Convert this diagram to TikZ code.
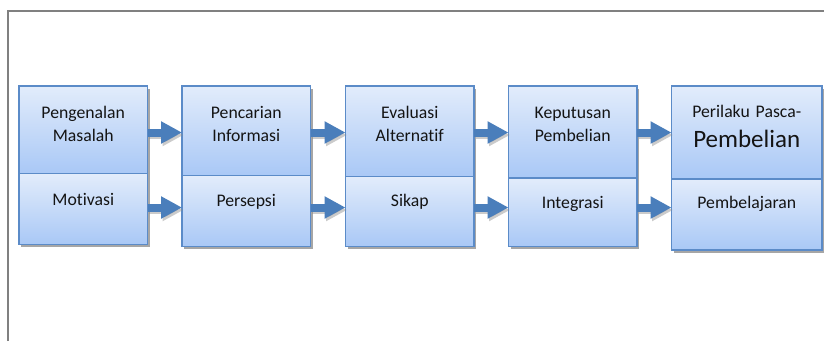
\documentclass[tikz,border=0pt]{standalone}
\usepackage{fontspec}
\setmainfont{Carlito}[Ligatures={NoCommon}]
\usetikzlibrary{arrows.meta,shadows,calc}
\definecolor{boxtop}{HTML}{E2ECFB}
\definecolor{boxbot}{HTML}{A9C8F6}
\definecolor{boxline}{HTML}{5B8BC8}
\definecolor{arrowblue}{HTML}{4A7EBB}
\definecolor{framegray}{HTML}{808080}
\definecolor{txtcol}{HTML}{141414}
\begin{document}
\begin{tikzpicture}[x=1pt,y=-1pt,
  stage/.style={draw=boxline, line width=1.3pt, top color=boxtop, bottom color=boxbot,
    inner sep=0pt, outer sep=0pt, anchor=north west, minimum width=128.5pt,
    drop shadow={shadow xshift=2pt, shadow yshift=-2.5pt, fill=black, opacity=0.35}},
  wide/.style={minimum width=150.5pt},
  stagetext/.style={text=txtcol, font=\fontsize{17.7}{23}\selectfont, text width=140pt,
    align=center, anchor=base, inner sep=0pt},
  flow/.style={draw=arrowblue, line width=8pt, -{Triangle[length=21pt,width=21pt]}},
  flowshadow/.style={draw=black!45, opacity=0.45, line width=8pt, -{Triangle[length=21pt,width=21pt]},
    transform canvas={shift={(1.5pt,-2.5pt)}}},
  frameline/.style={draw=framegray, line width=2pt}]
\useasboundingbox (0,0) rectangle (824,341);
\fill[white] (0,0) rectangle (824,341);
\draw[frameline] (8,341) -- (8,11) -- (824,11);

% column 1
\node[stage, minimum height=87.5pt] (t1) at (19,86) {};
\node[stage, minimum height=71pt] (b1) at (19,173.5) {};
% column 2
\node[stage, minimum height=89.5pt] (t2) at (182,86) {};
\node[stage, minimum height=71pt] (b2) at (182,175.5) {};
% column 3
\node[stage, minimum height=90.5pt] (t3) at (345.5,86) {};
\node[stage, minimum height=70pt] (b3) at (345.5,176.5) {};
% column 4
\node[stage, minimum height=92pt] (t4) at (508.5,86) {};
\node[stage, minimum height=68.5pt] (b4) at (508.5,178) {};
% column 5
\node[stage, wide, minimum height=93pt] (t5) at (671.5,86) {};
\node[stage, wide, minimum height=71pt] (b5) at (671.5,179) {};

% texts
\node[stagetext] (l1) at ($(t1.north)+(0,32)$) {Pengenalan\\Masalah};
\node[stagetext] (m1) at ($(b1.north)+(0,31.5)$) {Motivasi};
\node[stagetext] (l2) at ($(t2.north)+(0,32)$) {Pencarian\\Informasi};
\node[stagetext] (m2) at ($(b2.north)+(0,30.5)$) {Persepsi};
\node[stagetext] (l3) at ($(t3.north)+(0,32)$) {Evaluasi\\Alternatif};
\node[stagetext] (m3) at ($(b3.north)+(0,29.5)$) {Sikap};
\node[stagetext] (l4) at ($(t4.north)+(0,32)$) {Keputusan\\Pembelian};
\node[stagetext] (m4) at ($(b4.north)+(0,30)$) {Integrasi};
\node[stagetext] (l5) at ($(t5.north)+(0,31.5)$) {Perilaku Pasca-\\[6.5pt]{\fontsize{25}{30}\selectfont Pembelian}};
\node[stagetext] (m5) at ($(b5.north)+(0,29)$) {Pembelajaran};

% rows for arrows
\coordinate (rowA) at (0,132.5);
\coordinate (rowB) at (0,207.5);

\foreach \a/\b in {1/2,2/3,3/4,4/5}{
  \draw[flowshadow] (t\a.east |- rowA) -- (t\b.west |- rowA);
  \draw[flowshadow] (b\a.east |- rowB) -- (b\b.west |- rowB);
}
\foreach \a/\b in {1/2,2/3,3/4,4/5}{
  \draw[flow] (t\a.east |- rowA) -- (t\b.west |- rowA);
  \draw[flow] (b\a.east |- rowB) -- (b\b.west |- rowB);
}
\end{tikzpicture}
\end{document}
